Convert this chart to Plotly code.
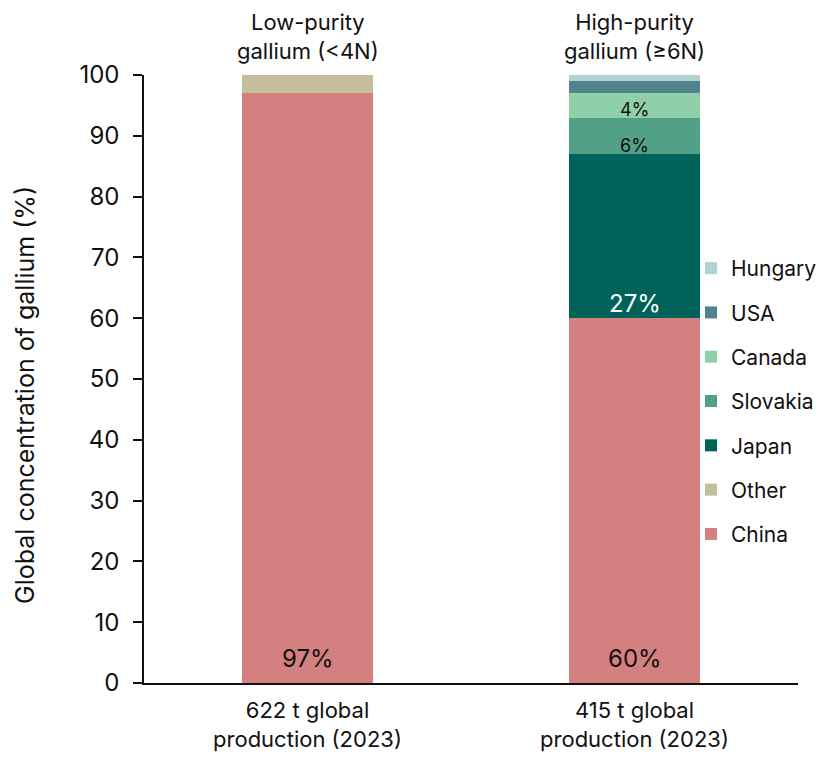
import plotly.graph_objects as go

# Gallium production shares by producing country, 2023
categories = ["622 t global<br>production (2023)", "415 t global<br>production (2023)"]
purity_labels = ["Low-purity<br>gallium (<4N)", "High-purity<br>gallium (≥6N)"]

china = [97, 60]
other = [3, 0]
japan = [0, 27]
slovakia = [0, 6]
canada = [0, 4]
usa = [0, 2]
hungary = [0, 1]

FONT = "Inter, Roboto, sans-serif"
INK = "#111111"

series = [
    ("China", china, "#D47F80"),
    ("Other", other, "#C3BE9B"),
    ("Japan", japan, "#00635A"),
    ("Slovakia", slovakia, "#52A086"),
    ("Canada", canada, "#8FD0A9"),
    ("USA", usa, "#52848F"),
    ("Hungary", hungary, "#B3D1D1"),
]

# Which segments carry a percentage label, and how that label is styled:
# (series name, category index, text colour, font size, pixel lift above segment base)
label_style = [
    ("China", 0, INK, 24, 25),
    ("China", 1, INK, 24, 25),
    ("Japan", 1, "#FFFFFF", 24, 15),
    ("Slovakia", 1, INK, 18, 9),
    ("Canada", 1, INK, 18, 8),
]

fig = go.Figure()
n = len(series)
for rank, (name, vals, color) in enumerate(series):
    fig.add_trace(go.Bar(
        x=categories, y=vals, name=name, legendgroup=name,
        legendrank=n - rank,
        marker=dict(color=color, line=dict(width=0)),
        width=0.4, hoverinfo="skip",
    ))

# Segment bases from the stacked values
values = {name: vals for name, vals, _ in series}
bases = {}
running = [0] * len(categories)
for name, vals, _ in series:
    bases[name] = list(running)
    running = [r + v for r, v in zip(running, vals)]

for name, idx, tcol, tsize, lift in label_style:
    fig.add_annotation(
        x=categories[idx], y=bases[name][idx], xref="x", yref="y",
        yanchor="middle", yshift=lift, showarrow=False,
        text=f"{values[name][idx]}%",
        font=dict(size=tsize, color=tcol, family=FONT),
    )

for cat, lab in zip(categories, purity_labels):
    fig.add_annotation(x=cat, y=1.0, xref="x", yref="paper", yanchor="bottom",
                       yshift=9, text=lab, showarrow=False,
                       font=dict(size=22, color=INK, family=FONT))

# Vertical axis title, set as rotated text left of the tick labels
fig.add_annotation(
    x=0, y=0.4737, xref="paper", yref="paper", xanchor="center",
    xshift=-119, textangle=-90, showarrow=False,
    text="Global concentration of gallium (%)",
    font=dict(size=25, color=INK, family=FONT),
)

fig.update_layout(
    barmode="stack",
    width=825, height=758,
    margin=dict(l=144, r=27, t=75, b=75, autoexpand=False),
    plot_bgcolor="white", paper_bgcolor="white",
    font=dict(family=FONT, color=INK),
    legend=dict(
        traceorder="grouped", tracegroupgap=14,
        x=0.8364, xanchor="left", y=0.7155, yanchor="top",
        font=dict(size=21, family=FONT, color=INK),
        bgcolor="rgba(0,0,0,0)",
        itemwidth=30,
    ),
)
fig.update_xaxes(
    automargin=False,
    showline=True, linecolor=INK, linewidth=1.5,
    ticks="", ticklabelstandoff=7,
    tickfont=dict(size=22, family=FONT, color=INK),
    range=[-0.5, 1.5],
)
fig.update_yaxes(
    automargin=False,
    range=[0, 100], dtick=10, showgrid=False, zeroline=False,
    showline=True, linecolor=INK, linewidth=1.5,
    ticks="outside", ticklen=9, tickwidth=1.5, tickcolor=INK,
    ticklabelstandoff=9,
    tickfont=dict(size=24, family=FONT, color=INK),
)

fig.write_html("out.html")
